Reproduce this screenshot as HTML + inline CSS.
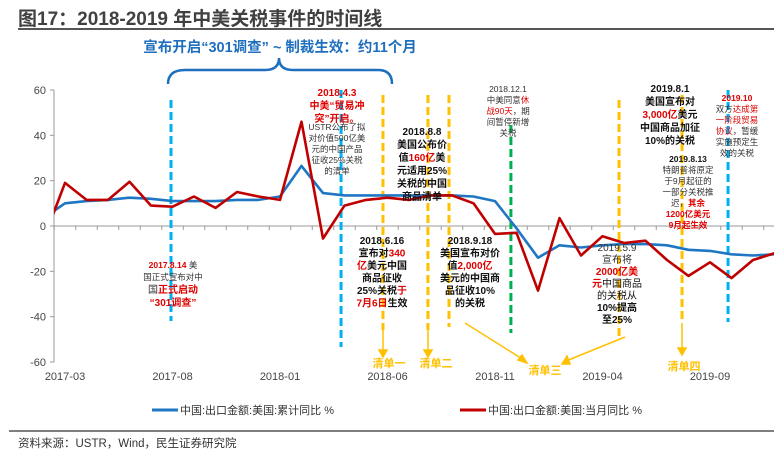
<!DOCTYPE html>
<html><head><meta charset="utf-8"><style>
body{margin:0;background:#fff;}
svg{display:block;font-family:"Liberation Sans","Noto Sans CJK SC",sans-serif;}
.a{font-size:10px;text-anchor:middle;fill:#111;font-weight:bold;}
.s{font-size:8.5px;text-anchor:middle;fill:#333;}
.r{fill:#e00000;}
</style></head><body>
<svg id="c" width="774" height="462" viewBox="0 0 774 462">
<text x="18" y="25" font-size="19" font-weight="bold" fill="#404040">图17：2018-2019 年中美关税事件的时间线</text>
<line x1="18" y1="29" x2="774" y2="29" stroke="#555" stroke-width="2"/>
<text x="280" y="52" font-size="14.5" font-weight="bold" fill="#1f6fbf" text-anchor="middle">宣布开启“301调查” ~ 制裁生效：约11个月</text>
<path d="M168,84 Q168,70 185,70 L265,70 Q279,70 279,58 Q279,70 293,70 L378,70 Q392,70 392,84" fill="none" stroke="#1f6fbf" stroke-width="2.5"/>
<g id="axes"></g>
<g id="vlines"></g>
<g id="series"></g>
<g>
<text class="a r" x="337" y="96"><tspan x="337">2018.4.3</tspan><tspan x="337" dy="13">中美“贸易冲</tspan><tspan x="337" dy="13">突”开启。</tspan></text>
<text class="s" x="337" y="130"><tspan x="337">USTR公布了拟</tspan><tspan x="337" dy="11">对价值500亿美</tspan><tspan x="337" dy="11">元的中国产品</tspan><tspan x="337" dy="11">征收25%关税</tspan><tspan x="337" dy="11">的清单</tspan></text>
<text class="a" x="422" y="135"><tspan x="422">2018.8.8</tspan><tspan x="422" dy="13">美国公布价</tspan><tspan x="422" dy="13">值<tspan class="r">160亿</tspan>美</tspan><tspan x="422" dy="13">元适用25%</tspan><tspan x="422" dy="13">关税的中国</tspan><tspan x="422" dy="13">商品清单</tspan></text>
<text class="s" x="508" y="92"><tspan x="508">2018.12.1</tspan><tspan x="508" dy="11">中美同意<tspan class="r">休</tspan></tspan><tspan x="508" dy="11"><tspan class="r">战90天</tspan>，期</tspan><tspan x="508" dy="11">间暂停新增</tspan><tspan x="508" dy="11">关税</tspan></text>
<text class="a" x="670" y="92"><tspan x="670">2019.8.1</tspan><tspan x="670" dy="13">美国宣布对</tspan><tspan x="670" dy="13"><tspan class="r">3,000亿</tspan>美元</tspan><tspan x="670" dy="13">中国商品加征</tspan><tspan x="670" dy="13">10%的关税</tspan></text>
<text class="s" x="688" y="162"><tspan x="688" font-weight="bold" fill="#111">2019.8.13</tspan><tspan x="688" dy="11">特朗普将原定</tspan><tspan x="688" dy="11">于9月起征的</tspan><tspan x="688" dy="11">一部分关税推</tspan><tspan x="688" dy="11">迟，<tspan class="r" font-weight="bold">其余</tspan></tspan><tspan x="688" dy="11" class="r" font-weight="bold">1200亿美元</tspan><tspan x="688" dy="11" class="r" font-weight="bold">9月起生效</tspan></text>
<text class="s" x="737" y="101"><tspan x="737" class="r" font-weight="bold">2019.10</tspan><tspan x="737" dy="11">双方<tspan class="r">达成第</tspan></tspan><tspan x="737" dy="11" class="r">一阶段贸易</tspan><tspan x="737" dy="11"><tspan class="r">协议</tspan>，暂缓</tspan><tspan x="737" dy="11">实施预定生</tspan><tspan x="737" dy="11">效的关税</tspan></text>
<text class="s" x="173" y="268"><tspan x="173"><tspan class="r" font-weight="bold">2017.8.14</tspan> 美</tspan><tspan x="173" dy="12">国正式宣布对中</tspan><tspan x="173" dy="13" font-size="10">国<tspan class="r" font-weight="bold">正式启动</tspan></tspan><tspan x="173" dy="13" class="r" font-weight="bold" font-size="10">“301调查”</tspan></text>
<text class="a" x="382" y="244"><tspan x="382">2018.6.16</tspan><tspan x="382" dy="12.5">宣布对<tspan class="r">340</tspan></tspan><tspan x="382" dy="12.5"><tspan class="r">亿</tspan>美元中国</tspan><tspan x="382" dy="12.5">商品征收</tspan><tspan x="382" dy="12.5">25%关税<tspan class="r">于</tspan></tspan><tspan x="382" dy="12.5"><tspan class="r">7月6日</tspan>生效</tspan></text>
<text class="a" x="470" y="244"><tspan x="470">2018.9.18</tspan><tspan x="470" dy="12.5">美国宣布对价</tspan><tspan x="470" dy="12.5">值<tspan class="r">2,000亿</tspan></tspan><tspan x="470" dy="12.5">美元的中国商</tspan><tspan x="470" dy="12.5">品征收10%</tspan><tspan x="470" dy="12.5">的关税</tspan></text>
<text class="a" x="617" y="251"><tspan x="617" font-weight="normal" fill="#333">2019.5.9</tspan><tspan x="617" dy="12" font-weight="normal" fill="#333">宣布将</tspan><tspan x="617" dy="12" class="r">2000亿美</tspan><tspan x="617" dy="12"><tspan class="r">元</tspan><tspan font-weight="normal">中国商品</tspan></tspan><tspan x="617" dy="12" font-weight="normal">的关税从</tspan><tspan x="617" dy="12">10%提高</tspan><tspan x="617" dy="12">至25%</tspan></text>
</g>
<g fill="#ffc000" font-size="11" font-weight="bold" text-anchor="middle">
<text x="389" y="367">清单一</text>
<text x="436" y="367">清单二</text>
<text x="545" y="374">清单三</text>
<text x="684" y="370">清单四</text>
</g>
<g stroke="#ffc000" stroke-width="1.5" fill="#ffc000">
<line x1="383" y1="330" x2="383" y2="352"/><path d="M379,350 L383,357 L387,350Z"/>
<line x1="428" y1="328" x2="428" y2="352"/><path d="M424,350 L428,357 L432,350Z"/>
<line x1="682" y1="323" x2="682" y2="350"/><path d="M678,348 L682,355 L686,348Z"/>
<line x1="465" y1="323" x2="524" y2="360"/><path d="M518,360 L527,363 L522,355Z"/>
<line x1="625" y1="337" x2="566" y2="361"/><path d="M567,356 L562,364 L570,364Z"/>
</g>
<g>
<line x1="152" y1="410" x2="178" y2="410" stroke="#1f77c4" stroke-width="3"/>
<text x="180" y="414" font-size="11" fill="#333">中国:出口金额:美国:累计同比 %</text>
<line x1="460" y1="410" x2="486" y2="410" stroke="#c00000" stroke-width="3"/>
<text x="488" y="414" font-size="11" fill="#333">中国:出口金额:美国:当月同比 %</text>
</g>
<line x1="9" y1="431" x2="774" y2="431" stroke="#555" stroke-width="1.5"/>
<text x="18" y="447" font-size="11.5" fill="#333">资料来源：USTR，Wind，民生证券研究院</text>
</svg>
<script>
const categories = ["2017-02","2017-03","2017-04","2017-05","2017-06","2017-07","2017-08","2017-09","2017-10","2017-11","2017-12","2018-01","2018-02","2018-03","2018-04","2018-05","2018-06","2018-07","2018-08","2018-09","2018-10","2018-11","2018-12","2019-01","2019-02","2019-03","2019-04","2019-05","2019-06","2019-07","2019-08","2019-09","2019-10","2019-11","2019-12"];
const cumulative = [3.5,10,11,11.5,12.5,12,11,11,11,11.5,11.5,13,26.5,14.5,13.5,13.5,13.5,13.5,13.5,13.5,13,11,-1,-14,-8.5,-9.5,-8.5,-8,-8,-8.5,-10.5,-11,-12.5,-13,-12.5];
const monthly = [-6,19,11.5,11.5,19.5,9,8.5,13,8,15,13,11.5,46,-5.5,9,11.5,12.5,11.5,13.5,13.5,10,-3.5,-3,-28.5,3.5,-13,-4.5,-7.5,-6.5,-15,-22,-16,-23,-15,-12];
const yTicks = [60,40,20,0,-20,-40,-60];
const xTickLabels = ["2017-03","2017-08","2018-01","2018-06","2018-11","2019-04","2019-09"];
const eventMonths = ["2017-08","2018-04","2018-06","2018-08","2018-09","2018-12","2019-05","2019-08","2019-10"];
const eventOffsets = [-0.07,-0.16,-0.21,-0.12,-0.14,-0.26,-0.23,-0.3,-0.16];
const eventColors = ["#00b0f0","#00b0f0","#ffc000","#ffc000","#ffc000","#00b050","#ffc000","#ffc000","#00b0f0"];
const eventTops = [100,90,95,95,95,125,100,95,90];
const eventBottoms = [321,347,330,330,327,333,338,323,322];

const NS="http://www.w3.org/2000/svg";
const X0=54, X1=774, Y0=90, Y1=362;
const step=21.5;
function xOf(i){return 43.5+step*i;}
function xCat(c){return xOf(categories.indexOf(c));}
function yOf(v){return 226 - v*(Y1-Y0)/120;}
function mk(t,a,p){const e=document.createElementNS(NS,t);for(const k in a)e.setAttribute(k,a[k]);p.appendChild(e);return e;}
const svg=document.getElementById('c');
const defs=mk('defs',{},svg);
const cp=mk('clipPath',{id:'pc'},defs);
mk('rect',{x:X0,y:0,width:X1-X0,height:462},cp);
const ax=document.getElementById('axes');
const yl=mk('line',{x1:X0,y1:Y0,x2:X0,y2:Y1,stroke:'#999'},ax);


yTicks.forEach(v=>{
  mk('line',{x1:X0-4,y1:yOf(v),x2:X0,y2:yOf(v),stroke:'#999'},ax);
  const t=mk('text',{x:X0-8,y:yOf(v)+4,'font-size':11,fill:'#444','text-anchor':'end'},ax);
  t.textContent=v;
  
  
});
const zl=mk('line',{x1:X0,y1:yOf(0),x2:X1,y2:yOf(0),stroke:'#999'},ax);


for(let i=0;i<categories.length;i++){
  const x=xOf(i)+step/2;
  if(x>X0&&x<X1) mk('line',{x1:x,y1:yOf(0),x2:x,y2:yOf(0)+4,stroke:'#999'},ax);
}
xTickLabels.forEach(c=>{
  const t=mk('text',{x:xCat(c),y:380,'font-size':11,fill:'#444','text-anchor':'middle'},ax);
  t.textContent=c;
  
  
});
const vl=document.getElementById('vlines');
eventMonths.forEach((m,i)=>{
  const x=xCat(m)+eventOffsets[i]*step;
  const l=mk('line',{x1:x,y1:eventTops[i],x2:x,y2:eventBottoms[i],stroke:eventColors[i],'stroke-width':3,'stroke-dasharray':'8,4'},vl);
  
  
});
const sg=document.getElementById('series');
function path(vals){return vals.map((v,i)=>(i?'L':'M')+xOf(i).toFixed(1)+','+yOf(v).toFixed(1)).join(' ');}
const pb=mk('path',{d:path(cumulative),fill:'none',stroke:'#1f77c4','stroke-width':2.6,'clip-path':'url(#pc)','stroke-linejoin':'round'},sg);


const pr=mk('path',{d:path(monthly),fill:'none',stroke:'#c00000','stroke-width':2.6,'clip-path':'url(#pc)','stroke-linejoin':'round'},sg);


</script>
</body></html>
